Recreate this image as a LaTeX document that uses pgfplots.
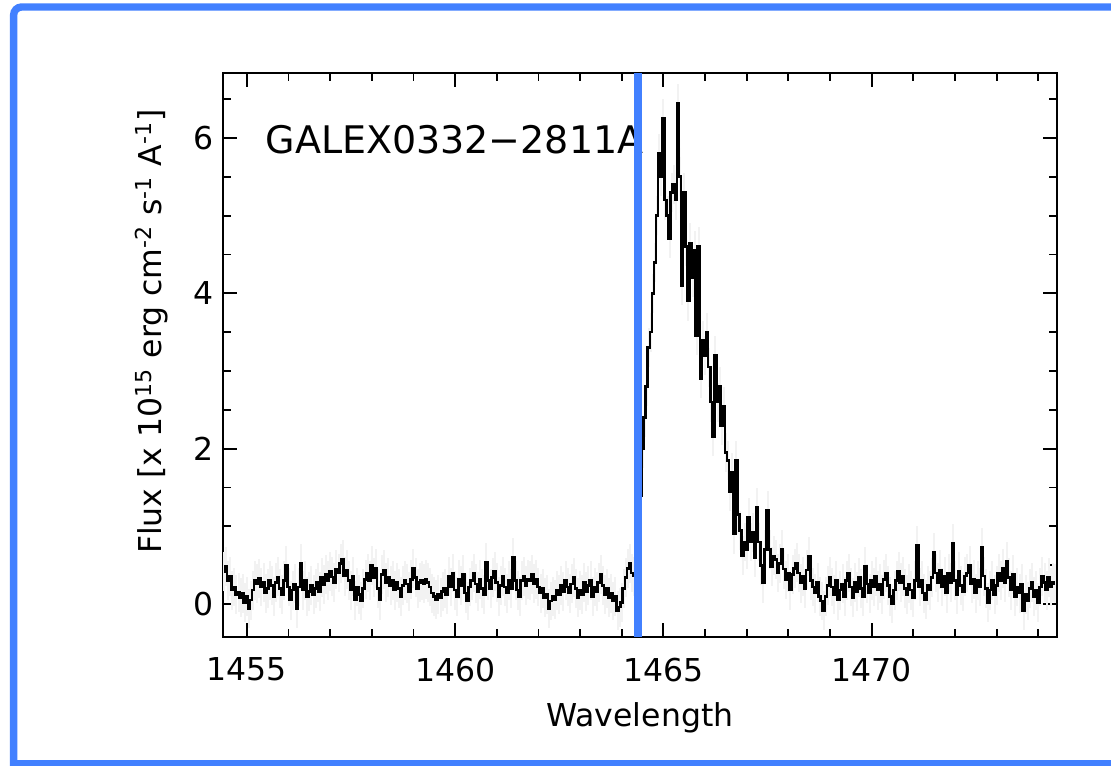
\documentclass[border=0pt]{standalone}
\usepackage{fontspec}
\setmainfont{DejaVu Sans}
\usepackage{pgfplots}
\usepackage{pgfplotstable}
\pgfplotsset{compat=1.18}
\definecolor{frameblue}{RGB}{66,128,255}

\pgfplotstableread[row sep=\\]{
x y\\
1454.45 0.42\\ 1454.50 0.48\\ 1454.55 0.30\\ 1454.60 0.36\\ 1454.65 0.18\\ 1454.70 0.22\\ 1454.75 0.12\\ 1454.80 0.15\\ 1454.85 0.08\\ 1454.90 0.14\\
1454.95 0.02\\ 1455.00 0.10\\ 1455.05 -0.06\\ 1455.10 0.05\\ 1455.15 0.18\\ 1455.20 0.30\\ 1455.25 0.26\\ 1455.30 0.33\\ 1455.35 0.22\\ 1455.40 0.28\\
1455.45 0.14\\ 1455.50 0.20\\ 1455.55 0.30\\ 1455.60 0.24\\ 1455.65 0.10\\ 1455.70 0.28\\ 1455.75 0.35\\ 1455.80 0.20\\ 1455.85 0.12\\ 1455.90 0.30\\
1455.95 0.50\\ 1456.00 0.22\\ 1456.05 0.05\\ 1456.10 0.18\\ 1456.15 0.26\\ 1456.20 -0.06\\ 1456.25 0.22\\ 1456.30 0.52\\ 1456.35 0.18\\ 1456.40 0.30\\
1456.45 0.10\\ 1456.50 0.16\\ 1456.55 0.24\\ 1456.60 0.12\\ 1456.65 0.20\\ 1456.70 0.28\\ 1456.75 0.16\\ 1456.80 0.34\\ 1456.85 0.25\\ 1456.90 0.38\\
1456.95 0.30\\ 1457.00 0.42\\ 1457.05 0.35\\ 1457.10 0.28\\ 1457.15 0.45\\ 1457.20 0.40\\ 1457.25 0.52\\ 1457.30 0.58\\ 1457.35 0.36\\ 1457.40 0.44\\
1457.45 0.30\\ 1457.50 0.18\\ 1457.55 0.36\\ 1457.60 0.05\\ 1457.65 0.22\\ 1457.70 0.12\\ 1457.75 0.04\\ 1457.80 0.20\\ 1457.85 0.32\\ 1457.90 0.40\\
1457.95 0.30\\ 1458.00 0.50\\ 1458.05 0.34\\ 1458.10 0.46\\ 1458.15 0.20\\ 1458.20 0.05\\ 1458.25 0.38\\ 1458.30 0.44\\ 1458.35 0.28\\ 1458.40 0.34\\
1458.45 0.24\\ 1458.50 0.30\\ 1458.55 0.18\\ 1458.60 0.28\\ 1458.65 0.20\\ 1458.70 0.10\\ 1458.75 0.24\\ 1458.80 0.30\\ 1458.85 0.26\\ 1458.90 0.16\\
1458.95 0.32\\ 1459.00 0.46\\ 1459.05 0.34\\ 1459.10 0.20\\ 1459.15 0.28\\ 1459.20 0.30\\ 1459.25 0.26\\ 1459.30 0.32\\ 1459.35 0.28\\ 1459.40 0.22\\
1459.45 0.14\\ 1459.50 0.10\\ 1459.55 0.06\\ 1459.60 0.12\\ 1459.65 0.08\\ 1459.70 0.16\\ 1459.75 0.20\\ 1459.80 0.12\\ 1459.85 0.36\\ 1459.90 0.22\\
1459.95 0.40\\ 1460.00 0.18\\ 1460.05 0.10\\ 1460.10 0.32\\ 1460.15 0.24\\ 1460.20 0.38\\ 1460.25 0.14\\ 1460.30 0.04\\ 1460.35 0.22\\ 1460.40 0.30\\
1460.45 0.40\\ 1460.50 0.26\\ 1460.55 0.16\\ 1460.60 0.32\\ 1460.65 0.20\\ 1460.70 0.12\\ 1460.75 0.54\\ 1460.80 0.30\\ 1460.85 0.20\\ 1460.90 0.34\\
1460.95 0.42\\ 1461.00 0.28\\ 1461.05 0.10\\ 1461.10 0.24\\ 1461.15 0.36\\ 1461.20 0.22\\ 1461.25 0.14\\ 1461.30 0.30\\ 1461.35 0.20\\ 1461.40 0.60\\
1461.45 0.30\\ 1461.50 0.18\\ 1461.55 0.10\\ 1461.60 0.30\\ 1461.65 0.36\\ 1461.70 0.24\\ 1461.75 0.32\\ 1461.80 0.30\\ 1461.85 0.38\\ 1461.90 0.26\\
1461.95 0.32\\ 1462.00 0.22\\ 1462.05 0.14\\ 1462.10 0.20\\ 1462.15 0.08\\ 1462.20 0.12\\ 1462.25 -0.06\\ 1462.30 0.04\\ 1462.35 0.10\\ 1462.40 0.06\\
1462.45 0.18\\ 1462.50 0.12\\ 1462.55 0.24\\ 1462.60 0.16\\ 1462.65 0.30\\ 1462.70 0.22\\ 1462.75 0.14\\ 1462.80 0.26\\ 1462.85 0.34\\ 1462.90 0.20\\
1462.95 0.08\\ 1463.00 0.18\\ 1463.05 0.12\\ 1463.10 0.28\\ 1463.15 0.16\\ 1463.20 0.24\\ 1463.25 0.30\\ 1463.30 0.10\\ 1463.35 0.22\\ 1463.40 0.16\\
1463.45 0.28\\ 1463.50 0.38\\ 1463.55 0.24\\ 1463.60 0.12\\ 1463.65 0.20\\ 1463.70 0.08\\ 1463.75 0.14\\ 1463.80 0.04\\ 1463.85 0.10\\ 1463.90 -0.08\\
1463.95 -0.04\\ 1464.00 0.02\\ 1464.05 0.20\\ 1464.10 0.34\\ 1464.15 0.46\\ 1464.20 0.52\\ 1464.25 0.40\\ 1464.30 0.36\\ 1464.35 0.60\\ 1464.40 0.90\\
1464.45 1.40\\ 1464.50 2.00\\ 1464.55 2.40\\ 1464.60 2.80\\ 1464.65 3.30\\ 1464.70 3.50\\ 1464.75 4.00\\ 1464.80 4.40\\ 1464.85 5.00\\ 1464.90 5.80\\
1464.95 5.50\\ 1465.00 6.25\\ 1465.05 5.20\\ 1465.10 5.00\\ 1465.15 4.70\\ 1465.20 5.30\\ 1465.25 5.40\\ 1465.30 5.20\\ 1465.35 6.45\\ 1465.40 5.50\\
1465.45 4.10\\ 1465.50 5.30\\ 1465.55 4.60\\ 1465.60 3.90\\ 1465.65 4.65\\ 1465.70 4.20\\ 1465.75 4.55\\ 1465.80 3.45\\ 1465.85 4.60\\ 1465.90 2.90\\
1465.95 3.40\\ 1466.00 3.20\\ 1466.05 3.50\\ 1466.10 3.05\\ 1466.15 2.60\\ 1466.20 2.15\\ 1466.25 3.20\\ 1466.30 2.60\\ 1466.35 2.80\\ 1466.40 2.30\\
1466.45 2.55\\ 1466.50 1.95\\ 1466.55 1.85\\ 1466.60 1.45\\ 1466.65 1.70\\ 1466.70 0.90\\ 1466.75 1.85\\ 1466.80 1.15\\ 1466.85 0.95\\ 1466.90 0.62\\
1466.95 0.80\\ 1467.00 0.70\\ 1467.05 1.12\\ 1467.10 0.80\\ 1467.15 0.92\\ 1467.20 0.60\\ 1467.25 1.25\\ 1467.30 0.80\\ 1467.35 0.50\\ 1467.40 0.27\\
1467.45 0.70\\ 1467.50 1.21\\ 1467.55 0.70\\ 1467.60 0.48\\ 1467.65 0.62\\ 1467.70 0.57\\ 1467.75 0.40\\ 1467.80 0.52\\ 1467.85 0.70\\ 1467.90 0.45\\
1467.95 0.31\\ 1468.00 0.40\\ 1468.05 0.18\\ 1468.10 0.38\\ 1468.15 0.46\\ 1468.20 0.53\\ 1468.25 0.40\\ 1468.30 0.27\\ 1468.35 0.36\\ 1468.40 0.20\\
1468.45 0.44\\ 1468.50 0.61\\ 1468.55 0.30\\ 1468.60 0.22\\ 1468.65 0.14\\ 1468.70 0.28\\ 1468.75 0.10\\ 1468.80 0.04\\ 1468.85 -0.08\\ 1468.90 0.10\\
1468.95 0.24\\ 1469.00 0.35\\ 1469.05 0.22\\ 1469.10 0.12\\ 1469.15 0.30\\ 1469.20 0.05\\ 1469.25 0.18\\ 1469.30 0.26\\ 1469.35 0.10\\ 1469.40 0.30\\
1469.45 0.40\\ 1469.50 0.22\\ 1469.55 0.08\\ 1469.60 0.28\\ 1469.65 0.16\\ 1469.70 0.34\\ 1469.75 0.20\\ 1469.80 0.10\\ 1469.85 0.48\\ 1469.90 0.26\\
1469.95 0.14\\ 1470.00 0.30\\ 1470.05 0.22\\ 1470.10 0.36\\ 1470.15 0.18\\ 1470.20 0.26\\ 1470.25 0.12\\ 1470.30 0.32\\ 1470.35 0.40\\ 1470.40 0.24\\
1470.45 0.10\\ 1470.50 0.01\\ 1470.55 0.18\\ 1470.60 0.30\\ 1470.65 0.42\\ 1470.70 0.28\\ 1470.75 0.36\\ 1470.80 0.20\\ 1470.85 0.12\\ 1470.90 0.26\\
1470.95 0.18\\ 1471.00 0.08\\ 1471.05 0.30\\ 1471.10 0.76\\ 1471.15 0.22\\ 1471.20 0.30\\ 1471.25 0.14\\ 1471.30 0.06\\ 1471.35 0.24\\ 1471.40 0.18\\
1471.45 0.34\\ 1471.50 0.67\\ 1471.55 0.40\\ 1471.60 0.28\\ 1471.65 0.44\\ 1471.70 0.22\\ 1471.75 0.36\\ 1471.80 0.14\\ 1471.85 0.40\\ 1471.90 0.28\\
1471.95 0.78\\ 1472.00 0.30\\ 1472.05 0.12\\ 1472.10 0.42\\ 1472.15 0.24\\ 1472.20 0.16\\ 1472.25 0.36\\ 1472.30 0.40\\ 1472.35 0.50\\ 1472.40 0.26\\
1472.45 0.32\\ 1472.50 0.14\\ 1472.55 0.30\\ 1472.60 0.22\\ 1472.65 0.73\\ 1472.70 0.36\\ 1472.75 0.20\\ 1472.80 0.02\\ 1472.85 0.18\\ 1472.90 0.30\\
1472.95 0.12\\ 1473.00 0.24\\ 1473.05 0.40\\ 1473.10 0.30\\ 1473.15 0.46\\ 1473.20 0.28\\ 1473.25 0.55\\ 1473.30 0.34\\ 1473.35 0.18\\ 1473.40 0.38\\
1473.45 0.10\\ 1473.50 0.22\\ 1473.55 0.14\\ 1473.60 0.26\\ 1473.65 -0.08\\ 1473.70 0.12\\ 1473.75 0.04\\ 1473.80 0.20\\ 1473.85 0.28\\ 1473.90 0.10\\
1473.95 0.18\\ 1474.00 0.02\\ 1474.05 0.22\\ 1474.10 0.36\\ 1474.15 0.28\\ 1474.20 0.18\\ 1474.25 0.34\\ 1474.30 0.22\\ 1474.35 0.28\\ 1474.40 0.26\\
}\spec

\begin{document}
\begin{tikzpicture}
\useasboundingbox (0,0) rectangle (555.5pt,382.5pt);
% blue frame of the screenshot
\draw[frameblue, line width=3.7pt, rounded corners=4pt] (620pt,379pt) -- (6.83pt,379pt) -- (6.83pt,-5pt);
\draw[frameblue, line width=3.7pt] (6.83pt,0.6pt) -- (620pt,0.6pt);
\begin{axis}[
  at={(111.35pt,64.15pt)}, anchor=south west,
  scale only axis, width=417.15pt, height=282pt,
  xmin=1454.42, xmax=1474.45, ymin=-0.42, ymax=6.84,
  xtick={1455,1460,1465,1470}, ytick={0,2,4,6},
  minor xtick={1455,1456,...,1474}, minor ytick={-0.0,0.5,...,6.5},
  tick align=inside, xtick pos=both, ytick pos=both,
  major tick length=7pt, minor tick length=4pt,
  every tick/.style={black, line width=0.9pt},
  axis line style={line width=1.1pt},
  /pgf/number format/assume math mode=true,
  /pgf/number format/1000 sep={},
  tick label style={font=\fontsize{15.75}{18}\selectfont},
  xticklabel style={yshift=-7pt},
  yticklabel style={xshift=-1pt},
  xlabel={Wavelength},
  ylabel={Flux [x 10\textsuperscript{15} erg cm\textsuperscript{-2} s\textsuperscript{-1} A\textsuperscript{-1}]},
  every axis x label/.style={at={(axis description cs:0.5,-0.1596)}, anchor=base, font=\fontsize{15.75}{18}\selectfont},
  every axis y label/.style={at={(axis description cs:-0.0853,0.541)}, rotate=90, anchor=center, font=\fontsize{15.75}{18}\selectfont},
  clip=true,
]
\node[anchor=base west, inner sep=0pt, font=\fontsize{19}{22}\selectfont] at (axis cs:1455.44,5.80) {GALEX0332−2811A};
\addplot[black!5, line width=1pt, forget plot, mark=none,
  error bars/.cd, y dir=both, y fixed=0.25, error mark=none,
  error bar style={black!5, line width=1pt}] table {\spec};
\addplot[const plot mark mid, black, line width=1.3pt] table {\spec};
\addplot[frameblue, line width=4pt] coordinates {(1464.39,-0.42) (1464.39,6.84)};
\end{axis}
\end{tikzpicture}
\end{document}
